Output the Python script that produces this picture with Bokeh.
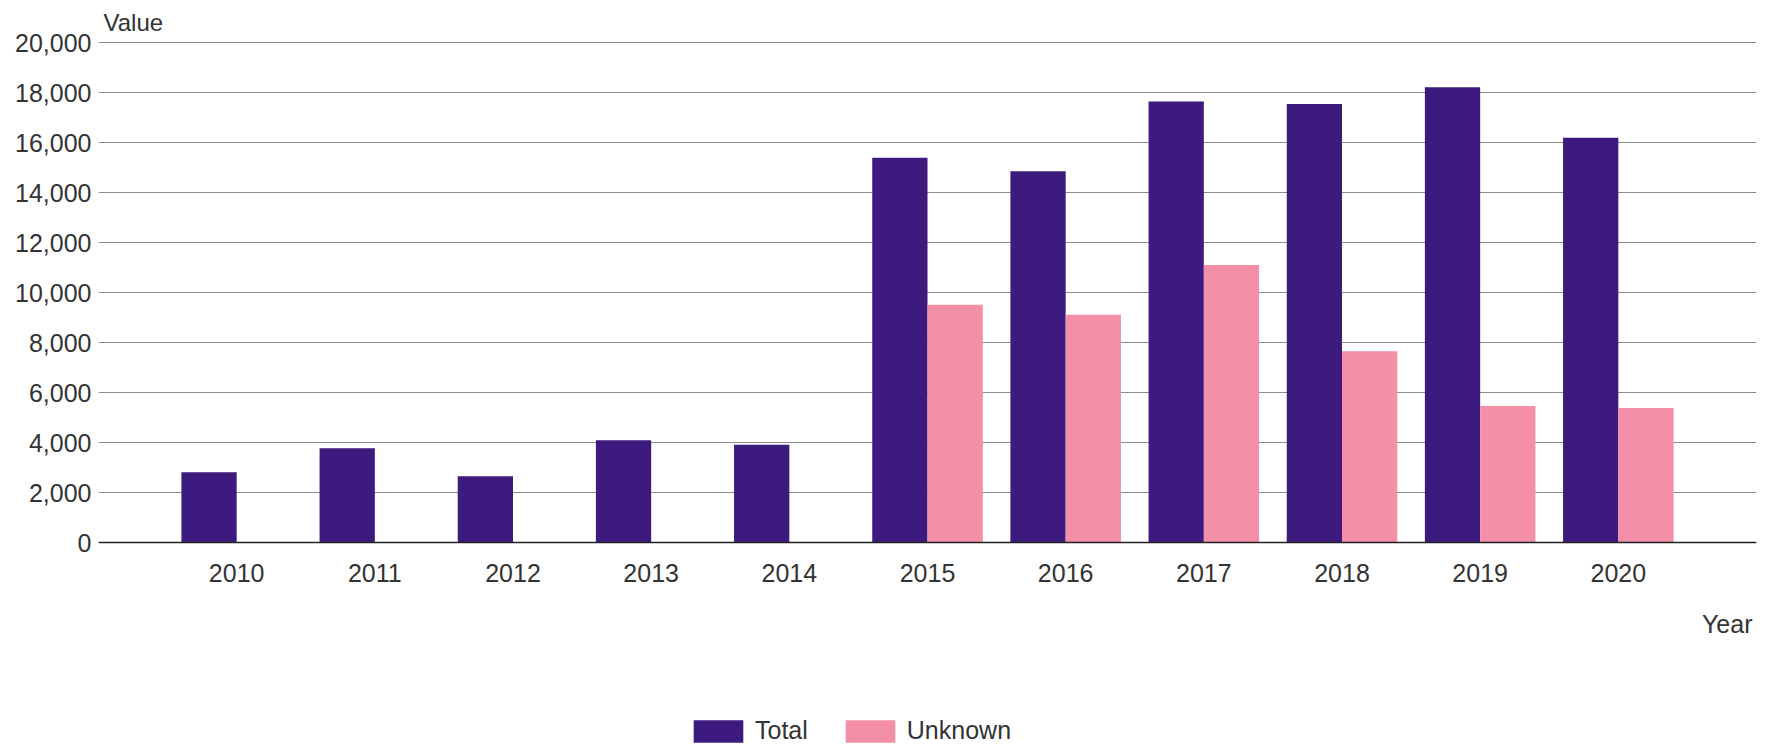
from bokeh.plotting import figure
from bokeh.models import (ColumnDataSource, Range1d, FixedTicker, NumeralTickFormatter,
                          Legend, LegendItem, Label)
from bokeh.embed import file_html
from bokeh.resources import INLINE

years = ["2010", "2011", "2012", "2013", "2014", "2015", "2016", "2017", "2018", "2019", "2020"]
total = [2810, 3770, 2650, 4090, 3910, 15390, 14850, 17640, 17540, 18210, 16190]
unknown = [0, 0, 0, 0, 0, 9510, 9110, 11100, 7650, 5460, 5380]
y_ticks = [0, 2000, 4000, 6000, 8000, 10000, 12000, 14000, 16000, 18000, 20000]

FONT = "Liberation Sans"
TXT = "#333333"
PURPLE = "#3d1a7e"
PINK = "#f48fa8"

W, H = 1769, 744
LEFT, RIGHT = 98, 13
# plot area: value 0 at y=542px, 20000 at y=42px (from canvas top); frame spans whole height
PX_PER_UNIT = 500 / 20000.0
y_top = 20000 + 42 / PX_PER_UNIT
y_bot = -(H - 542) / PX_PER_UNIT

idx = list(range(len(years)))
src = ColumnDataSource(dict(
    x_total=[i - 0.2 for i in idx],
    x_unknown=[i + 0.2 for i in idx],
    total=total,
    unknown=unknown,
))

p = figure(width=W, height=H, output_backend="svg", toolbar_location=None,
           x_range=Range1d(-1, len(years)), y_range=Range1d(y_bot, y_top),
           min_border_left=LEFT, min_border_right=RIGHT, min_border_top=0, min_border_bottom=0)
p.outline_line_color = None
p.background_fill_color = "white"
p.border_fill_color = "white"

r_total = p.vbar(x="x_total", top="total", bottom=0, width=0.4, source=src,
                 fill_color=PURPLE, line_color=None)
r_unknown = p.vbar(x="x_unknown", top="unknown", bottom=0, width=0.4, source=src,
                   fill_color=PINK, line_color=None)

# x axis, drawn at value 0
xa = p.xaxis[0]
xa.fixed_location = 0
xa.ticker = FixedTicker(ticks=idx)
xa.major_label_overrides = {i: y for i, y in zip(idx, years)}
xa.major_tick_line_color = None
xa.minor_tick_line_color = None
xa.major_tick_out = 0
xa.major_tick_in = 0
xa.major_label_standoff = 21
xa.axis_line_color = "#222222"
xa.axis_line_width = 1.5
xa.major_label_text_font = FONT
xa.major_label_text_font_size = "25px"
xa.major_label_text_color = TXT

# y axis
ya = p.yaxis[0]
ya.ticker = FixedTicker(ticks=y_ticks)
ya.formatter = NumeralTickFormatter(format="0,0")
ya.axis_line_color = None
ya.major_tick_line_color = None
ya.minor_tick_line_color = None
ya.major_tick_out = 0
ya.major_tick_in = 0
ya.major_label_standoff = 7
ya.major_label_text_font = FONT
ya.major_label_text_font_size = "25px"
ya.major_label_text_color = TXT

p.xgrid.grid_line_color = None
p.ygrid.ticker = FixedTicker(ticks=y_ticks)
p.ygrid.grid_line_color = "#8c8c8c"
p.ygrid.grid_line_width = 1.2

# axis titles
p.add_layout(Label(x=-1, y=20000, x_offset=5, y_offset=20, text="Value",
                   text_font=FONT, text_font_size="24px", text_color=TXT,
                   text_baseline="alphabetic", text_align="left"))
p.add_layout(Label(x=len(years), y=0, x_offset=-4, y_offset=-81, text="Year",
                   text_font=FONT, text_font_size="25px", text_color=TXT,
                   text_baseline="alphabetic", text_align="right"))

legend = Legend(items=[LegendItem(label="Total", renderers=[r_total]),
                       LegendItem(label="Unknown", renderers=[r_unknown])],
                orientation="horizontal", location=(589, -1),
                glyph_width=62, glyph_height=28, label_standoff=6, spacing=31,
                padding=0, margin=0, border_line_color=None, background_fill_alpha=0,
                label_text_font=FONT, label_text_font_size="25px", label_text_color=TXT)
p.add_layout(legend, "center")

open("out.html", "w").write(file_html(p, INLINE))
